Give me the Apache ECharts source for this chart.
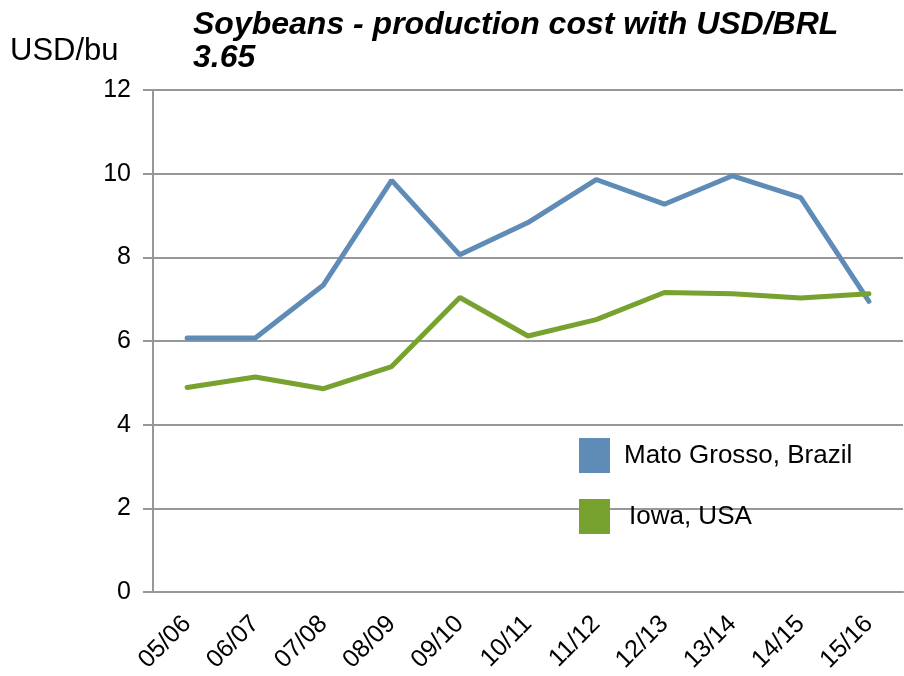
<!DOCTYPE html>
<html>
<head>
<meta charset="utf-8">
<title>Soybeans - production cost</title>
<script src="https://cdn.jsdelivr.net/npm/echarts@6/dist/echarts.min.js"></script>
<style>
  html, body { margin: 0; padding: 0; background: #ffffff; }
  #chart { width: 904px; height: 676px; }
</style>
</head>
<body>
<div id="chart"></div>
<script>
// Crop seasons on the x axis
const seasons = ['05/06', '06/07', '07/08', '08/09', '09/10', '10/11', '11/12', '12/13', '13/14', '14/15', '15/16'];
// Production cost, USD per bushel
const matoGrosso = [6.07, 6.07, 7.34, 9.84, 8.06, 8.83, 9.86, 9.27, 9.95, 9.43, 6.95];
const iowa = [4.89, 5.14, 4.86, 5.39, 7.04, 6.12, 6.51, 7.16, 7.13, 7.03, 7.13];
// Y axis range
const yMin = 0, yMax = 12, yStep = 2;

const FONT = '"Liberation Sans", Arial, sans-serif';
const GRID_GRAY = '#979797';
const BLUE = '#5f8bb7';
const GREEN = '#78a22f';

const chart = echarts.init(document.getElementById('chart'), null, { renderer: 'canvas' });

chart.setOption({
  backgroundColor: '#ffffff',
  animation: false,
  title: [
    {
      text: 'Soybeans - production cost with USD/BRL\n3.65',
      left: 188,
      top: 4,
      textStyle: {
        fontFamily: FONT,
        fontSize: 32,
        fontWeight: 'bold',
        fontStyle: 'italic',
        color: '#000000',
        lineHeight: 33
      }
    },
    {
      text: 'USD/bu',
      left: 5,
      top: 31,
      textStyle: {
        fontFamily: FONT,
        fontSize: 31,
        fontWeight: 'normal',
        color: '#000000'
      }
    }
  ],
  legend: {
    orient: 'vertical',
    left: 574,
    top: 433,
    itemWidth: 31,
    itemHeight: 35,
    itemGap: 26,
    icon: 'rect',
    textStyle: {
      fontFamily: FONT,
      fontSize: 26,
      color: '#000000',
      padding: [0, 0, 0, 9]
    },
    data: [
      'Mato Grosso, Brazil',
      { name: 'Iowa, USA', textStyle: { padding: [0, 0, 0, 14] } }
    ]
  },
  grid: {
    left: 153,
    right: 1,
    top: 90,
    bottom: 84,
    containLabel: false
  },
  xAxis: {
    type: 'category',
    data: seasons,
    boundaryGap: true,
    axisLine: { show: true, lineStyle: { color: GRID_GRAY, width: 2 } },
    axisTick: { show: false },
    axisLabel: {
      interval: 0,
      rotate: 45,
      margin: 28,
      fontFamily: FONT,
      fontSize: 25,
      color: '#000000'
    },
    splitLine: { show: false }
  },
  yAxis: {
    type: 'value',
    min: yMin,
    max: yMax,
    interval: yStep,
    axisLine: { show: true, lineStyle: { color: GRID_GRAY, width: 2 } },
    axisTick: { show: true, length: 10, inside: false, lineStyle: { color: GRID_GRAY, width: 2 } },
    axisLabel: {
      margin: 22,
      fontFamily: FONT,
      fontSize: 25,
      color: '#000000'
    },
    splitLine: { show: true, lineStyle: { color: GRID_GRAY, width: 2 } }
  },
  series: [
    {
      name: 'Mato Grosso, Brazil',
      type: 'line',
      data: matoGrosso,
      showSymbol: false,
      symbol: 'none',
      itemStyle: { color: BLUE },
      lineStyle: { color: BLUE, width: 5, cap: 'round' }
    },
    {
      name: 'Iowa, USA',
      type: 'line',
      data: iowa,
      showSymbol: false,
      symbol: 'none',
      itemStyle: { color: GREEN },
      lineStyle: { color: GREEN, width: 5, cap: 'round' }
    }
  ]
});
</script>
</body>
</html>
